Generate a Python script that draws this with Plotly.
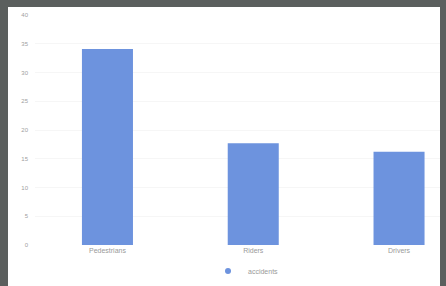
import plotly.graph_objects as go

categories = ["Pedestrians", "Riders", "Drivers"]
values = [34.1, 17.7, 16.2]
series_name = "accidents"
y_ticks = [0, 5, 10, 15, 20, 25, 30, 35, 40]

W, H = 446, 286
L, R, T, B = 35, 6, 15, 41
pw, ph = W - L - R, H - T - B

def px_x(p):
    return (p - L) / pw

def px_y(p):
    return 1 - (p - T) / ph

bar_color = "#6d93de"

fig = go.Figure()
fig.add_trace(go.Bar(
    x=categories, y=values, name=series_name,
    marker=dict(color=bar_color, line=dict(width=0)),
    width=0.35, showlegend=False,
))
# legend entry with a round marker
fig.add_trace(go.Scatter(
    x=[None], y=[None], mode="markers", name=series_name,
    marker=dict(color=bar_color, size=6, symbol="circle"),
))

fig.add_shape(type="rect", xref="paper", yref="paper",
              x0=px_x(8), x1=px_x(440), y0=px_y(290), y1=px_y(7),
              fillcolor="white", line=dict(width=0), layer="below")

fig.update_layout(
    width=W, height=H,
    margin=dict(l=L, r=R, t=T, b=B, autoexpand=False),
    paper_bgcolor="#5b5f5e",
    plot_bgcolor="white",
    font=dict(family="Arial, Liberation Sans, sans-serif", size=7, color="#9a9a9a"),
    showlegend=True,
    legend=dict(orientation="h", x=px_x(246), xanchor="center", y=px_y(271), yanchor="middle",
                font=dict(size=7, color="#9a9a9a"), bgcolor="rgba(0,0,0,0)",
                itemwidth=30),
    xaxis=dict(range=[-0.497, 2.281], showgrid=False, showline=False, zeroline=False,
               ticks="", automargin=False, tickfont=dict(size=7, color="#9a9a9a")),
    yaxis=dict(range=[0, 40], tickvals=y_ticks, showgrid=True, gridcolor="#f6f6f6",
               zeroline=False, showline=False, ticks="", ticklabelstandoff=6,
               automargin=False, tickfont=dict(size=6, color="#a0a0a0")),
)

fig.write_html("out.html", config={"displayModeBar": False},
               post_script="document.body.style.margin='0';")
